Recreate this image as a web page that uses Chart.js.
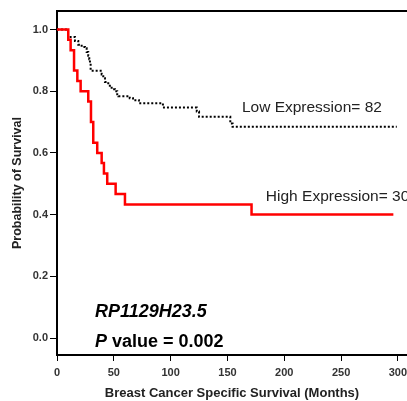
<!DOCTYPE html>
<html>
<head>
<meta charset="utf-8">
<script src="https://cdn.jsdelivr.net/npm/chart.js@4/dist/chart.umd.min.js"></script>
<style>
  html, body { margin: 0; padding: 0; background: #fff; }
  #wrap { width: 407px; height: 401px; }
</style>
</head>
<body>
<div id="wrap"><canvas id="survivalChart"></canvas></div>
<script>
// Kaplan-Meier steps: survival value from each month onward
const highMonths = [0, 9.9, 12, 15, 17.9, 20.8, 27.5, 29.9, 31.9, 35.4, 39.3, 41.3, 44.2, 51.6, 59.8, 171.2, 296];
const highSurvival = [1.0, 0.967, 0.933, 0.867, 0.833, 0.8, 0.767, 0.7, 0.633, 0.6, 0.567, 0.533, 0.5, 0.467, 0.433, 0.4, 0.4];

const lowMonths = [0, 9.7, 15.8, 18.7, 21.7, 24.6, 26.1, 27.5, 28.4, 29.0, 29.6, 39.3, 40.7, 42.2, 45.1, 48.1, 51.0, 53.0, 54.0, 64.0, 66.9, 72.1, 93.2, 123.0, 125.0, 152.5, 154.5, 299];
const lowSurvival = [1.0, 0.976, 0.963, 0.951, 0.943, 0.939, 0.927, 0.915, 0.904, 0.89, 0.866, 0.854, 0.842, 0.83, 0.818, 0.806, 0.8, 0.79, 0.784, 0.777, 0.771, 0.761, 0.747, 0.734, 0.717, 0.695, 0.685, 0.685];

const xTicks = [0, 50, 100, 150, 200, 250, 300];
const yTicks = [0.0, 0.2, 0.4, 0.6, 0.8, 1.0];

const groupLabels = ['High Expression= 30', 'Low Expression= 82'];
const geneName = 'RP1129H23.5';
const pValue = '0.002';

const FONT = '"Liberation Sans", Arial, sans-serif';

function toPoints(xs, ys) {
  return xs.map((x, i) => ({ x: x, y: ys[i] }));
}

// frame line along the top of the plot area
const frameTop = {
  id: 'frameTop',
  afterDraw(chart) {
    const { ctx, chartArea } = chart;
    ctx.save();
    ctx.strokeStyle = '#000';
    ctx.lineWidth = 2;
    ctx.beginPath();
    ctx.moveTo(chartArea.left - 1, chartArea.top);
    ctx.lineTo(chartArea.right, chartArea.top);
    ctx.stroke();
    ctx.restore();
  }
};

// group labels and the gene / p value note
const notes = {
  id: 'notes',
  afterDraw(chart) {
    const { ctx, scales } = chart;
    const x = scales.x, y = scales.y;
    ctx.save();
    ctx.textBaseline = 'middle';
    ctx.textAlign = 'left';
    ctx.fillStyle = '#222';
    ctx.font = '15.5px ' + FONT;
    ctx.fillText(groupLabels[1], x.getPixelForValue(162.7), y.getPixelForValue(0.746));
    ctx.fillText(groupLabels[0], x.getPixelForValue(183.8), y.getPixelForValue(0.457));

    ctx.fillStyle = '#000';
    const left = x.getPixelForValue(33.4);
    ctx.font = 'italic bold 18px ' + FONT;
    ctx.fillText(geneName, left, y.getPixelForValue(0.084));
    const py = y.getPixelForValue(-0.013);
    ctx.fillText('P', left, py);
    const pw = ctx.measureText('P').width;
    ctx.font = 'bold 18px ' + FONT;
    ctx.fillText(' value = ' + pValue, left + pw, py);
    ctx.restore();
  }
};

const ctx = document.getElementById('survivalChart').getContext('2d');
new Chart(ctx, {
  type: 'line',
  data: {
    datasets: [
      {
        label: groupLabels[0],
        data: toPoints(highMonths, highSurvival),
        borderColor: '#ff0000',
        borderWidth: 2.5,
        stepped: true,
        pointRadius: 0,
        fill: false
      },
      {
        label: groupLabels[1],
        data: toPoints(lowMonths, lowSurvival),
        borderColor: '#000',
        borderWidth: 2,
        borderDash: [2, 2],
        stepped: true,
        pointRadius: 0,
        fill: false
      }
    ]
  },
  options: {
    responsive: true,
    maintainAspectRatio: false,
    animation: false,
    layout: { padding: { top: 11, right: 0, left: 0, bottom: 0 } },
    plugins: {
      legend: { display: false },
      tooltip: { enabled: false }
    },
    scales: {
      x: {
        type: 'linear',
        min: 0,
        max: 308,
        afterBuildTicks: scale => { scale.ticks = xTicks.map(v => ({ value: v })); },
        afterFit: scale => {
          scale.height = 46;
          // plot runs to the right edge; the last label may touch it
          scale.paddingLeft = 0;
          scale.paddingRight = 0;
        },
        grid: { drawOnChartArea: false, drawTicks: true, tickLength: 6, color: '#000', tickWidth: 1 },
        border: { display: true, color: '#000', width: 2 },
        ticks: { color: '#333', font: { family: FONT, size: 11, weight: 'bold' }, padding: 5, maxRotation: 0 },
        title: {
          display: true,
          text: 'Breast Cancer Specific Survival (Months)',
          color: '#222',
          font: { family: FONT, size: 13, weight: 'bold' },
          padding: { top: 0, bottom: 0 }
        }
      },
      y: {
        type: 'linear',
        min: -0.055,
        max: 1.06,
        afterBuildTicks: scale => { scale.ticks = yTicks.map(v => ({ value: v })); },
        afterFit: scale => { scale.width = 57; },
        grid: { drawOnChartArea: false, drawTicks: true, tickLength: 7, color: '#000', tickWidth: 1 },
        border: { display: true, color: '#000', width: 2 },
        ticks: {
          color: '#333',
          font: { family: FONT, size: 11, weight: 'bold' },
          padding: 2,
          callback: v => v.toFixed(1)
        },
        title: {
          display: true,
          text: 'Probability of Survival',
          color: '#222',
          font: { family: FONT, size: 12.5, weight: 'bold' },
          padding: { top: 10, bottom: 0 }
        }
      }
    }
  },
  plugins: [frameTop, notes]
});
</script>
</body>
</html>
